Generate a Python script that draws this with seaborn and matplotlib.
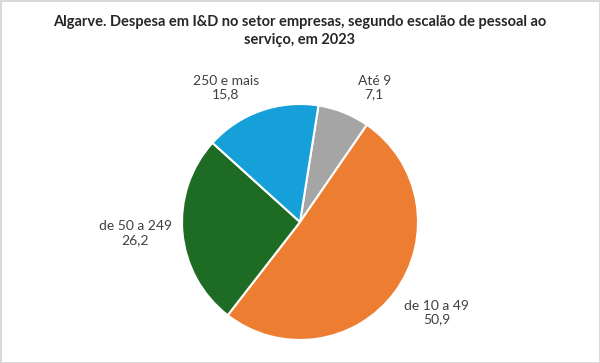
import numpy as np
import matplotlib
matplotlib.use("Agg")
import matplotlib.pyplot as plt
import seaborn as sns

# Data
categories = ["Até 9", "de 10 a 49", "de 50 a 249", "250 e mais"]
values = [7.1, 50.9, 26.2, 15.8]
value_labels = ["7,1", "50,9", "26,2", "15,8"]
colors = ["#A5A5A5", "#ED7D31", "#1E6B24", "#15A0D9"]

# label placement (angle in degrees, distance in radii)
label_angle = [61, -33.6, 183.8, 119]
label_dist = [1.30, 1.39, 1.40, 1.30]

sns.set_style("white")
plt.rcParams["font.family"] = ["Lato", "DejaVu Sans"]

fig = plt.figure(figsize=(6, 3.63), dpi=100)
fig.patch.set_edgecolor("#D9D9D9")
fig.patch.set_linewidth(2)

r_px = 118
cx, cy = 300, 222
ax = fig.add_axes([0, 0, 1, 1])
ax.pie(values, colors=colors, startangle=81, counterclock=False,
       radius=1, wedgeprops=dict(edgecolor="white", linewidth=1.5))
for cat, val, ang, d in zip(categories, value_labels, label_angle, label_dist):
    a = np.deg2rad(ang)
    ax.text(d * np.cos(a), d * np.sin(a), f"{cat}\n{val}", ha="center",
            va="center", fontsize=10, color="#404040", linespacing=1.15)

ax.set_xlim(-cx / r_px, (600 - cx) / r_px)
ax.set_ylim(-(363 - cy) / r_px, cy / r_px)
ax.set_aspect("equal")
ax.axis("off")

fig.text(0.5, 0.915, "Algarve. Despesa em I&D no setor empresas, segundo escalão de pessoal ao\nserviço, em 2023",
         ha="center", va="center", fontsize=10.5, fontweight="bold", color="#262626", linespacing=1.3)

fig.savefig("out.png", dpi=100)
